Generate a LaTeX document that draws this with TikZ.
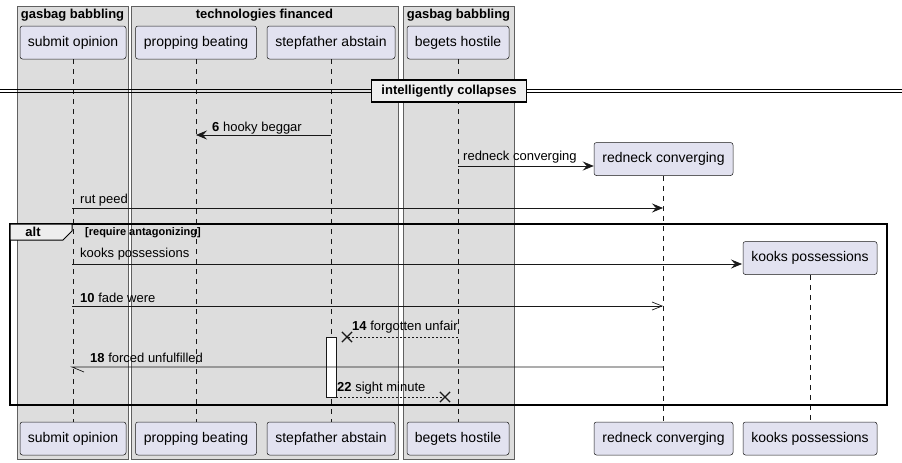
\documentclass[tikz,border=0pt]{standalone}
\usepackage{fontspec}
\setmainfont{Liberation Sans}
\usetikzlibrary{arrows.meta,shapes.misc}
\definecolor{partfill}{HTML}{E2E2F0}
\definecolor{partline}{HTML}{181818}
\definecolor{grpfill}{HTML}{DDDDDD}
\definecolor{tabfill}{HTML}{EEEEEE}
\tikzset{
 part/.style={draw=partline, fill=partfill, rounded corners=2.5pt, line width=0.5pt, minimum height=33pt, inner sep=0pt, font=\fontsize{14}{16}\selectfont},
 grp/.style={draw=gray!75!black, fill=grpfill, line width=0.6pt},
 grptitle/.style={font=\bfseries\fontsize{13}{15}\selectfont, inner sep=0pt},
 life/.style={draw=partline, line width=0.5pt, dash pattern=on 5pt off 5pt},
 msg/.style={draw=partline, line width=0.7pt},
 lbl/.style={anchor=west, inner sep=0pt, font=\fontsize{13}{15}\selectfont},
 full/.style={-{Stealth[length=11pt,width=9pt,inset=4pt]}},
 openhd/.style={-{Straight Barb[length=10pt,width=8pt]}},
 dashmsg/.style={dash pattern=on 2pt off 2pt},
 xmark/.style={cross out, draw=partline, line width=1.2pt, minimum size=9pt, inner sep=0pt},
}
\begin{document}
\begin{tikzpicture}[x=1pt,y=-1pt]
\useasboundingbox (0,0) rectangle (902,463);
% groups
\filldraw[grp] (17,6) rectangle (128,459);
\filldraw[grp] (131,6) rectangle (398,459);
\filldraw[grp] (403,6) rectangle (514,459);
\node[grptitle] (g1t) at (72.5,15) {gasbag babbling};
\node[grptitle] (g2t) at (264.5,15) {technologies financed};
\node[grptitle] (g3t) at (458.5,15) {gasbag babbling};
% participants top
\node[part, minimum width=106pt] (soT) at (73,42.5) {submit opinion};
\node[part, minimum width=121pt] (pbT) at (196,42.5) {propping beating};
\node[part, minimum width=128pt] (saT) at (331,42.5) {stepfather abstain};
\node[part, minimum width=102pt] (bhT) at (458,42.5) {begets hostile};
\node[part, minimum width=139pt] (rcT) at (663.5,159) {redneck converging};
\node[part, minimum width=134pt] (kpT) at (810,258) {kooks possessions};
% participants bottom
\node[part, minimum width=106pt] (soB) at (73,438.5) {submit opinion};
\node[part, minimum width=121pt] (pbB) at (196,438.5) {propping beating};
\node[part, minimum width=128pt] (saB) at (331,438.5) {stepfather abstain};
\node[part, minimum width=102pt] (bhB) at (458,438.5) {begets hostile};
\node[part, minimum width=139pt] (rcB) at (663.5,438.5) {redneck converging};
\node[part, minimum width=134pt] (kpB) at (810,438.5) {kooks possessions};
% lifelines
\draw[life] (soT.south) -- (soB.north);
\draw[life] (pbT.south) -- (pbB.north);
\draw[life] (saT.south) -- (saB.north);
\draw[life] (bhT.south) -- (bhB.north);
\draw[life] (rcT.south) -- (rcB.north);
\draw[life] (kpT.south) -- (kpB.north);
% divider
\draw[line width=0.8pt] (0,89.5) -- (902,89.5);
\draw[line width=0.8pt] (0,92.8) -- (902,92.8);
\node[draw=black, line width=1.5pt, fill=tabfill, minimum width=155pt, minimum height=22pt, inner sep=0pt, font=\bfseries\fontsize{13}{15}\selectfont] (div) at (449,91.2) {intelligently collapses};
% coordinates
\coordinate (a6s) at (331,135);
\coordinate (a6e) at (196,135);
\coordinate (arcs) at (458,166);
\coordinate (arps) at (72,208);
\coordinate (arpe) at (663,208);
\coordinate (akps) at (72,264);
\coordinate (akpe) at (742,264);
\coordinate (a10s) at (72,306);
\coordinate (a10e) at (663,306);
\coordinate (a14s) at (458,337);
\coordinate (a14e) at (347,337);
\coordinate (a18s) at (663,367);
\coordinate (a18e) at (72,367);
\coordinate (a18h) at (84,372);
\coordinate (a22e) at (445,397);
% activation
\node[draw=partline, fill=white, line width=0.5pt, minimum width=10pt, minimum height=60pt, inner sep=0pt] (act) at (331,367) {};
% messages
\draw[msg, full] (a6s) -- (a6e);
\node[lbl] (l6) at (212,128) {\textbf{6} hooky beggar};
\draw[msg, full] (arcs) -- (rcT.west |- arcs);
\node[lbl] (lrc) at (463,157) {redneck converging};
\draw[msg, full] (arps) -- (arpe);
\node[lbl] (lrp) at (80,200) {rut peed};
% alt frame
\draw[line width=1.5pt] (10,224) rectangle (887,405);
\filldraw[draw=black, line width=1pt, fill=tabfill] (10,224) -- (72,224) -- (72,231) -- (63,240) -- (10,240) -- cycle;
\node[font=\bfseries\fontsize{13}{15}\selectfont, inner sep=0pt] (alt) at (33,232) {alt};
\node[lbl, font=\bfseries\fontsize{11}{13}\selectfont] (cond) at (85,233) {[require antagonizing]};
\draw[msg, full] (akps) -- (akpe);
\node[lbl] (lkp) at (80,254) {kooks possessions};
\draw[msg, openhd] (a10s) -- (a10e);
\node[lbl] (l10) at (80,298) {\textbf{10} fade were};
\draw[msg, dashmsg] (a14s) -- (a14e);
\node[xmark] (x14) at (a14e) {};
\node[lbl] (l14) at (352,327) {\textbf{14} forgotten unfair};
\draw[msg] (a18s) -- (a18e) -- (a18h);
\node[lbl] (l18) at (90,358) {\textbf{18} forced unfulfilled};
\draw[msg, dashmsg] (act.east |- a22e) -- (a22e);
\node[xmark] (x22) at (a22e) {};
\node[lbl] (l22) at (337,388) {\textbf{22} sight minute};
\end{tikzpicture}
\end{document}
